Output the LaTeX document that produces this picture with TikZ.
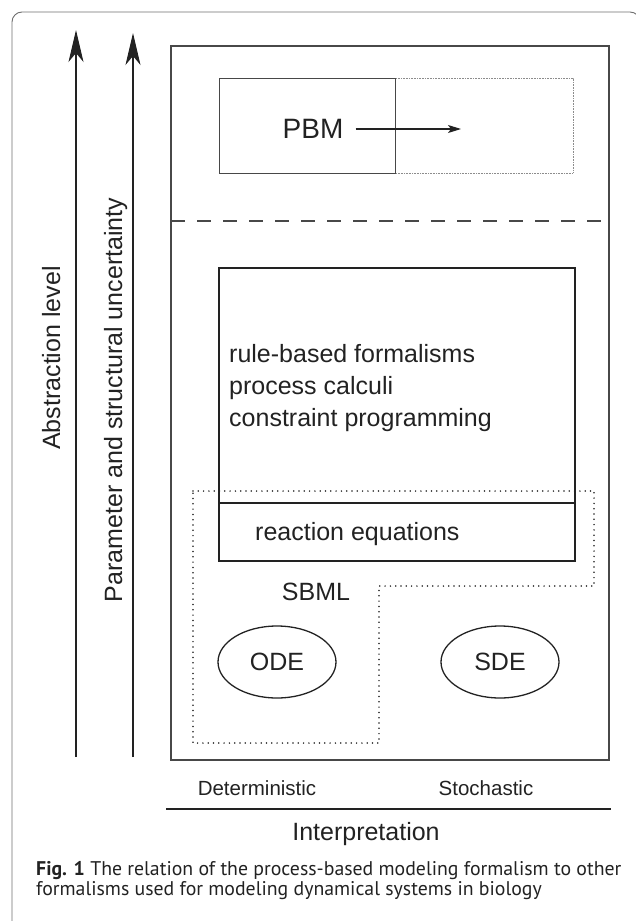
\documentclass[tikz,border=0pt]{standalone}
\usepackage{fontspec}
\setmainfont{Liberation Sans}
\newfontfamily\capfont{PT Sans}
\usetikzlibrary{arrows.meta,shapes.geometric}
\definecolor{framegray}{HTML}{6E6E6E}
\definecolor{boxgray}{HTML}{484848}
\definecolor{ink}{HTML}{222222}
\definecolor{dotgray}{HTML}{8C8C8C}

\begin{document}
\begin{tikzpicture}[x=1pt,y=-1pt,
  txt/.style={inner sep=0pt,text=ink,font=\fontsize{25}{30}\selectfont},
  small/.style={inner sep=0pt,text=ink,font=\fontsize{20.5}{24}\selectfont},
  captxt/.style={anchor=base west,inner sep=0pt,text=ink,font=\capfont\fontsize{19.8}{22}\selectfont},
  level/.style={-{Stealth[length=32pt,width=15pt,inset=9pt]},line width=1.3pt,ink}]
  \useasboundingbox (0,0) rectangle (635,921);
  \draw[framegray,line width=0.9pt,rounded corners=10pt] (12,921) -- (12,12) -- (640,12) -- (640,921);

  \coordinate (abot) at (76,757);
  \coordinate (atop) at (76,30);
  \coordinate (pbot) at (133,757);
  \coordinate (ptop) at (133,33);
  \draw[level] (abot) -- (atop);
  \draw[level] (pbot) -- (ptop);
  \node[txt,rotate=90,anchor=base] (abstr) at (60,358) {Abstraction level};
  \node[txt,rotate=90,anchor=base] (param) at (122,400) {Parameter and structural uncertainty};

  \draw[boxgray,line width=1.1pt] (171,46) rectangle (609,760);

  \draw[dotgray,line width=0.8pt,dash pattern=on 0.8pt off 0.8pt] (395,78) rectangle (573,173);
  \draw[boxgray,line width=1pt] (219,78) rectangle (395,173);
  \node[txt,font=\fontsize{28}{32}\selectfont,inner xsep=12pt] (pbm) at (313,129) {PBM};
  \coordinate (pbmend) at (461,129);
  \draw[-{Stealth[length=13pt,width=8pt,inset=3pt]},line width=1.1pt,ink] (pbm) -- (pbmend);

  \draw[boxgray,line width=1.3pt,dash pattern=on 14pt off 12pt] (171,221) -- (609,221);

  \draw[ink,line width=1.5pt] (219,268) rectangle (575,561);
  \draw[ink,line width=1.5pt] (219,503) -- (575,503);
  \foreach \t [count=\i] in {rule-based formalisms,process calculi,constraint programming}
    \node[txt,anchor=base west] (form\i) at (229,{330+32*\i}) {\t};
  \node[txt,anchor=base west] (react) at (255,540) {reaction equations};

  \draw[ink,line width=1.7pt,line cap=round,dash pattern=on 0pt off 5.3pt]
    (193,491) -- (594,491) -- (594,586) -- (379,586) -- (379,743) -- (193,743) -- cycle;
  \node[txt,anchor=base] (sbml) at (316,600) {SBML};
  \node[txt,draw=ink,line width=1.3pt,ellipse,minimum width=118pt,minimum height=72pt] (ode) at (277,662) {ODE};
  \node[txt,draw=ink,line width=1.3pt,ellipse,minimum width=118pt,minimum height=72pt] (sde) at (500,662) {SDE};

  \node[small,anchor=base] (det) at (257,795) {Deterministic};
  \node[small,anchor=base] (sto) at (486,795) {Stochastic};
  \draw[ink,line width=1.3pt] (166,809) -- (611,809);
  \node[txt,anchor=base] (interp) at (366,840) {Interpretation};

  \node[captxt] (cap1) at (36,875) {\textbf{Fig. 1} The relation of the process-based modeling formalism to other};
  \node[captxt] (cap2) at (36,895) {formalisms used for modeling dynamical systems in biology};
\end{tikzpicture}
\end{document}
